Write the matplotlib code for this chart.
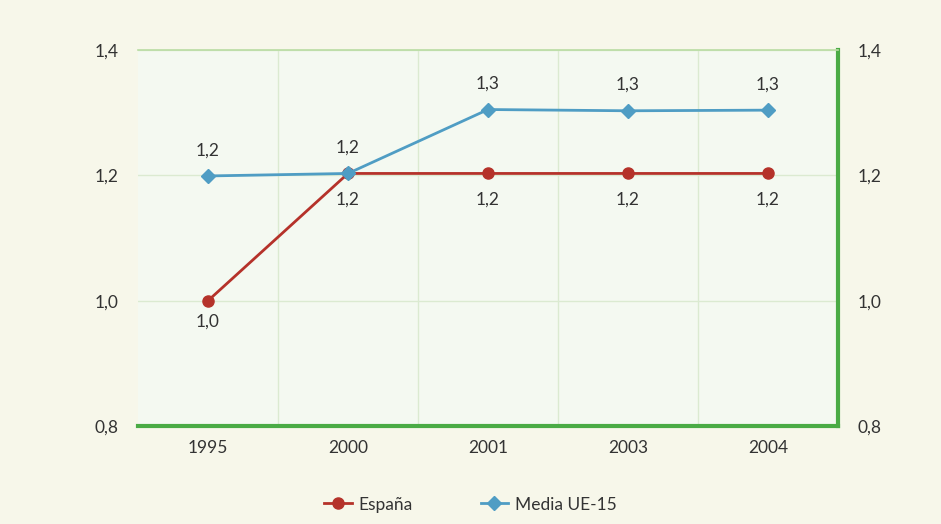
import matplotlib.pyplot as plt
from matplotlib.ticker import FixedLocator

years = ["1995", "2000", "2001", "2003", "2004"]
espana = [1.0, 1.203, 1.203, 1.203, 1.203]
media_ue15 = [1.199, 1.203, 1.305, 1.303, 1.304]
y_ticks = [0.8, 1.0, 1.2, 1.4]

BG = "#f7f7ea"
PLOT_BG = "#f4f9f1"
GREEN = "#4aab45"
LIGHT_GREEN = "#b9dca3"
GRID = "#dbead1"
RED = "#b5322a"
BLUE = "#4f9dc4"
TEXT = "#333333"

plt.rcParams["font.family"] = ["Lato", "DejaVu Sans"]


def comma(v):
    return f"{v:.1f}".replace(".", ",")


fig = plt.figure(figsize=(9.41, 5.24), dpi=100, facecolor=BG)
ax = fig.add_axes([0.1467, 0.187, 0.7438, 0.7176], facecolor=PLOT_BG)

x = list(range(len(years)))
ax.plot(x, espana, color=RED, lw=2, marker="o", ms=8, label="España", zorder=3)
ax.plot(x, media_ue15, color=BLUE, lw=2, marker="D", ms=7.5, label="Media UE-15", zorder=4)

# labels below the red line, above the blue one
red_offsets = [-15, -19, -19, -19, -19]
for xi, v, off in zip(x, espana, red_offsets):
    ax.annotate(comma(v), (xi, v), xytext=(0, off), textcoords="offset points",
                ha="center", va="center", fontsize=12.5, color=TEXT)
for xi, v in zip(x, media_ue15):
    ax.annotate(comma(v), (xi, v), xytext=(0, 18.5), textcoords="offset points",
                ha="center", va="center", fontsize=12.5, color=TEXT)

ax.set_xlim(-0.5, len(years) - 0.5)
ax.set_ylim(0.8, 1.4)

ax.set_xticks(x)
ax.set_xticklabels(years)
ax.xaxis.set_minor_locator(FixedLocator([i + 0.5 for i in range(len(years) - 1)]))
ax.grid(which="minor", axis="x", color=GRID, lw=1)
ax.set_yticks(y_ticks)
ax.set_yticklabels([comma(v) for v in y_ticks])
ax.grid(which="major", axis="y", color=GRID, lw=1)
ax.set_axisbelow(True)

ax.tick_params(axis="both", which="both", length=0, labelsize=12.5, colors=TEXT)
ax.tick_params(axis="x", pad=10)
ax.tick_params(axis="y", pad=14, labelleft=True, labelright=True)

ax.spines["left"].set_visible(False)
ax.spines["top"].set_color(LIGHT_GREEN)
ax.spines["top"].set_linewidth(1.2)
ax.spines["right"].set_color(GREEN)
ax.spines["right"].set_linewidth(3)
ax.spines["bottom"].set_color(GREEN)
ax.spines["bottom"].set_linewidth(3)

fig.legend(loc="lower center", bbox_to_anchor=(0.5, -0.008), ncol=2, frameon=False,
           fontsize=12.5, handlelength=1.6, handletextpad=0.4, columnspacing=3.9,
           labelcolor=TEXT)

fig.savefig("out.png", dpi=100, facecolor=BG)
